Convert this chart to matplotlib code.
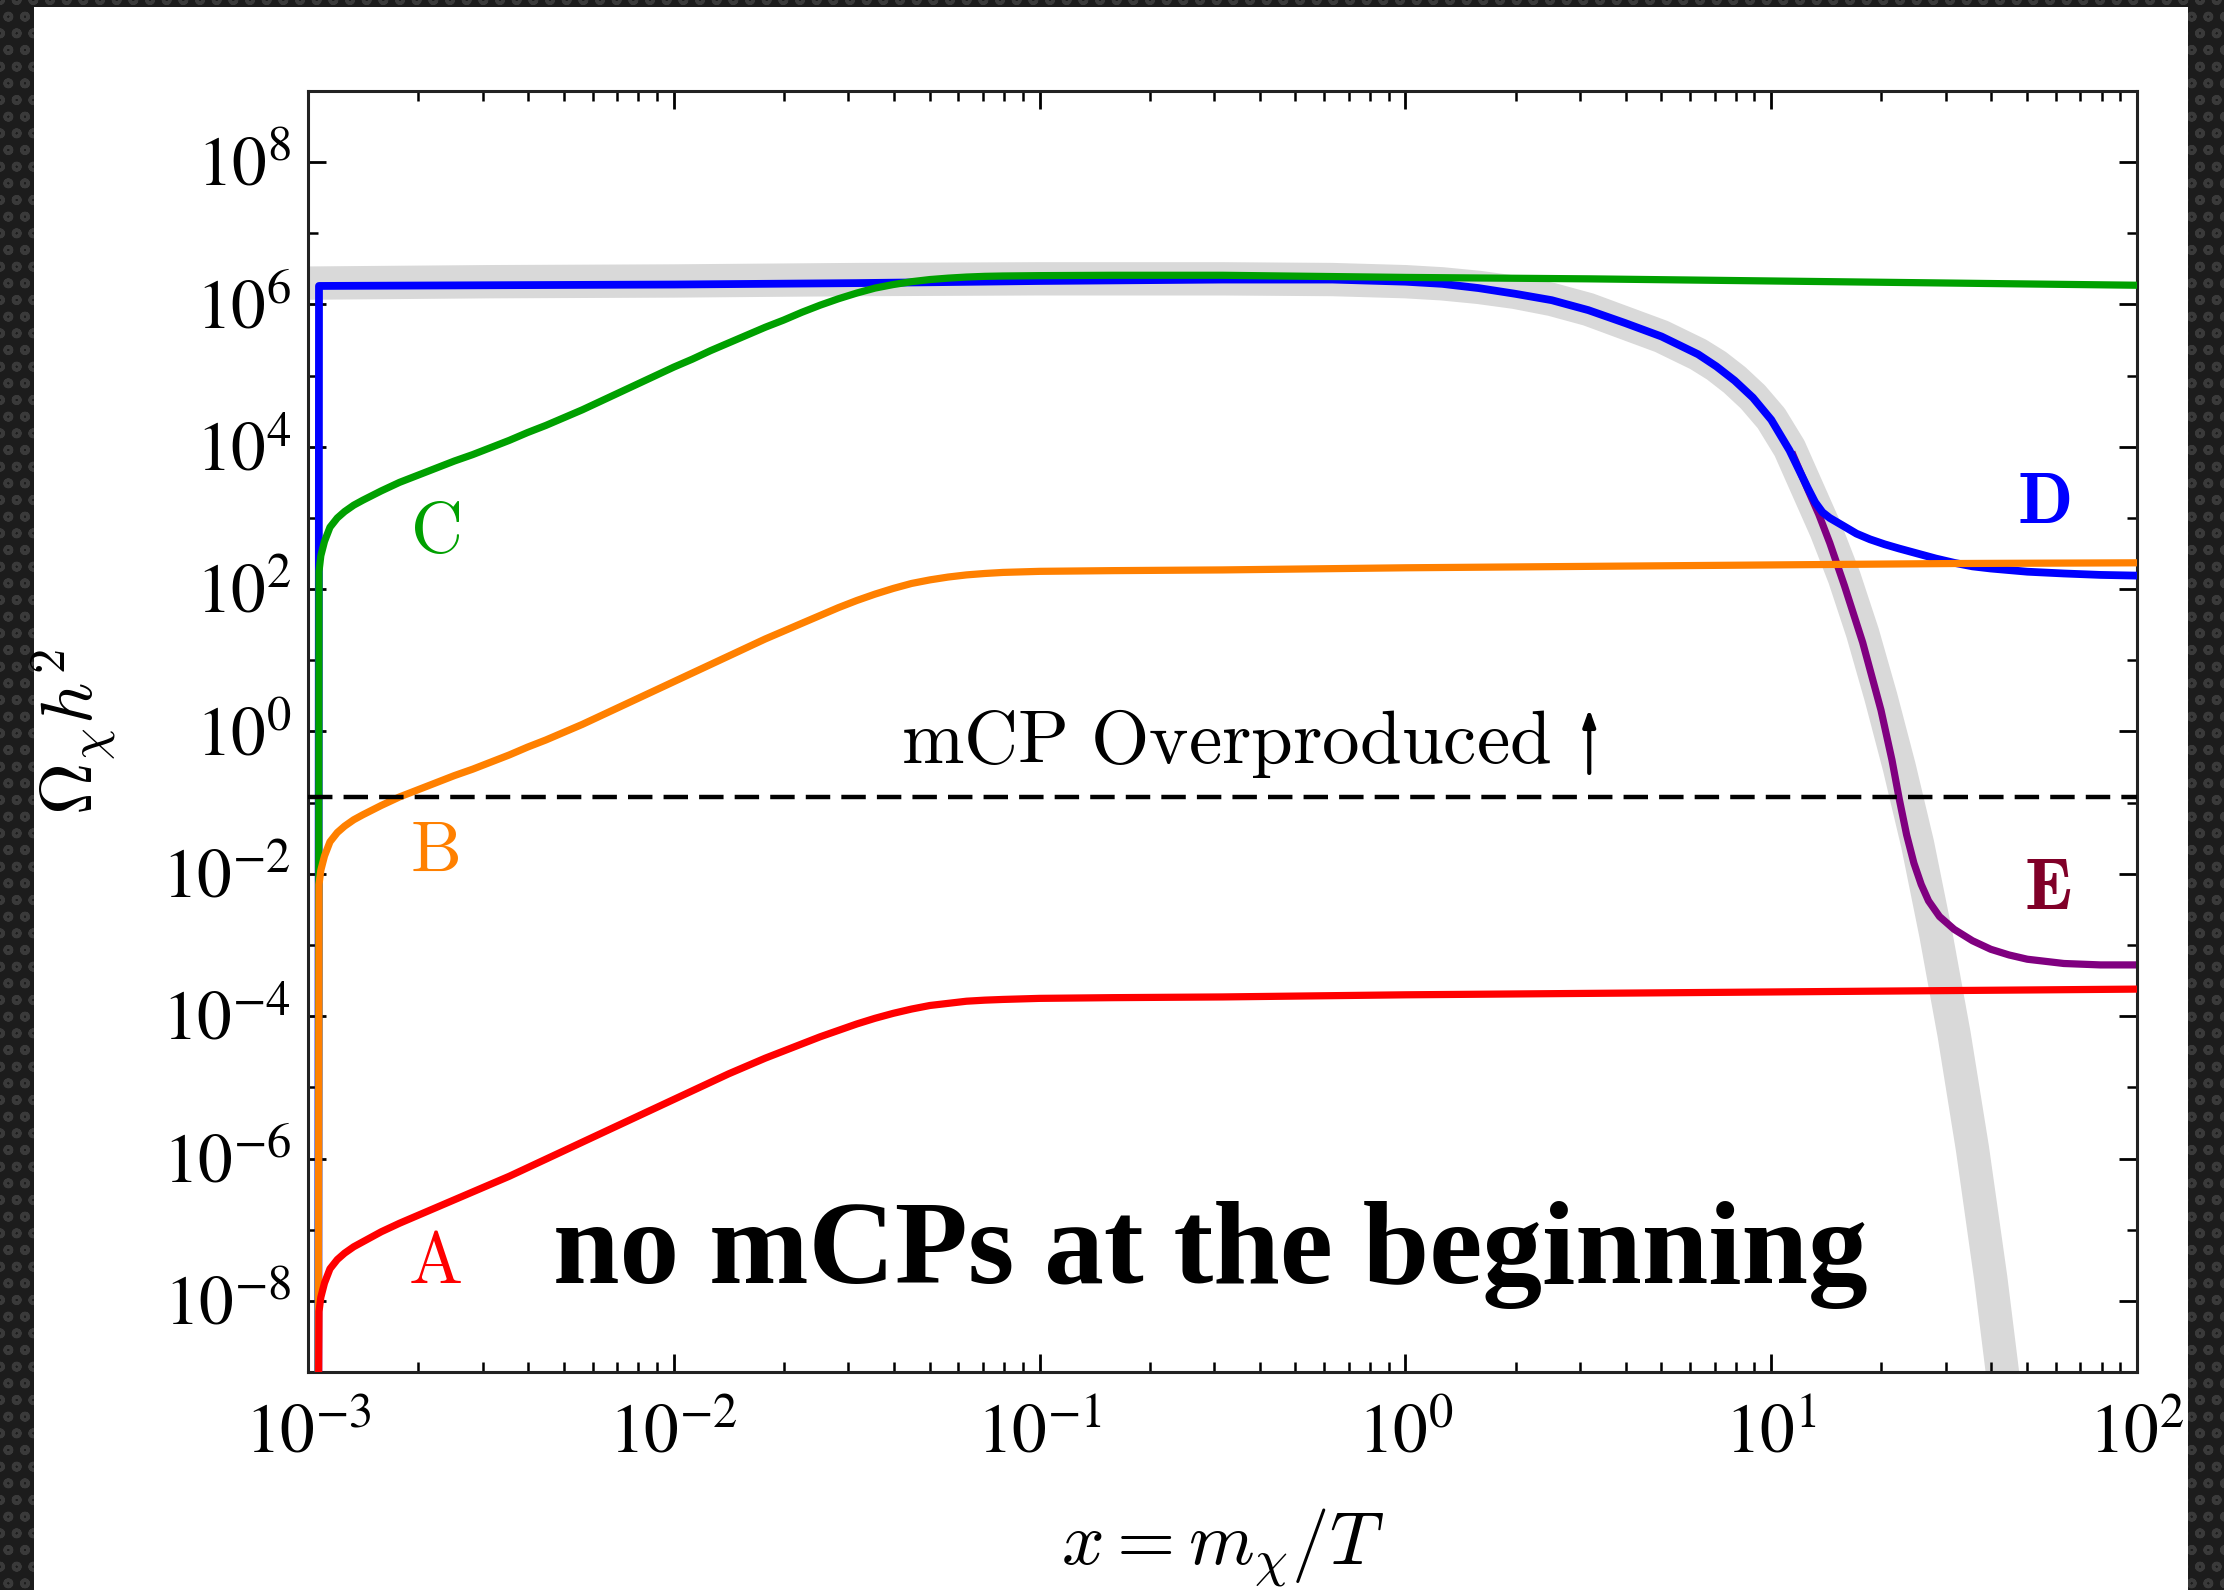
import numpy as np
import matplotlib.pyplot as plt
from matplotlib.patches import Rectangle
from matplotlib.ticker import FixedLocator, LogLocator, NullFormatter, FuncFormatter

plt.rcParams['mathtext.fontset'] = 'stix'
plt.rcParams['font.family'] = ['STIXGeneral', 'DejaVu Serif']
plt.rcParams['hatch.linewidth'] = 1.2

# values, as log10(x) and log10(Omega h^2)
eq_logx = [-3.0, -2.5, -2.0, -1.5, -1.0, -0.5, -0.2, 0.0, 0.1, 0.2, 0.3, 0.4, 0.5, 0.6,
           0.7, 0.8, 0.85, 0.9, 0.95, 1.0, 1.05, 1.1, 1.15, 1.2, 1.25, 1.3, 1.35, 1.4,
           1.45, 1.5, 1.55, 1.6, 1.65]
eq_logy = [6.30, 6.32, 6.33, 6.35, 6.36, 6.36, 6.35, 6.32, 6.29, 6.24, 6.17, 6.07, 5.93, 5.74,
           5.55, 5.30, 5.14, 4.94, 4.70, 4.40, 3.98, 3.40, 2.82, 2.16, 1.38, 0.48, -0.50, -1.58,
           -2.85, -4.26, -5.86, -7.68, -9.75]

d_logx = [-2.972, -2.970, -2.5, -2.0, -1.5, -1.0, -0.5, -0.2, 0.0, 0.1, 0.2, 0.3, 0.4, 0.5,
          0.6, 0.7, 0.8, 0.85, 0.9, 0.95, 1.0, 1.05, 1.1, 1.12, 1.14, 1.16, 1.18, 1.2, 1.233,
          1.27, 1.31, 1.35, 1.4, 1.45, 1.5, 1.55, 1.6, 1.7, 1.8, 1.9, 2.0]
d_logy = [-10.0, 6.26, 6.27, 6.28, 6.30, 6.33, 6.35, 6.35, 6.32, 6.29, 6.23, 6.15, 6.06, 5.92,
          5.74, 5.55, 5.30, 5.13, 4.93, 4.69, 4.38, 3.95, 3.42, 3.22, 3.08, 3.00, 2.94, 2.88, 2.78,
          2.70, 2.63, 2.57, 2.50, 2.43, 2.37, 2.32, 2.29, 2.245, 2.22, 2.20, 2.19]

e_logx = [1.06, 1.10, 1.13, 1.16, 1.20, 1.25, 1.30, 1.33, 1.35, 1.37, 1.39, 1.41, 1.43, 1.46,
          1.50, 1.55, 1.60, 1.65, 1.70, 1.80, 1.90, 2.00]
e_logy = [3.88, 3.40, 3.05, 2.65, 2.05, 1.25, 0.30, -0.40, -0.95, -1.45, -1.85, -2.15, -2.38, -2.60,
          -2.78, -2.94, -3.06, -3.14, -3.20, -3.26, -3.28, -3.28]

abc_logx = [-2.972, -2.970, -2.965, -2.955, -2.94, -2.92, -2.90, -2.875, -2.85, -2.80, -2.75,
            -2.70, -2.65, -2.60, -2.55, -2.50, -2.45, -2.40, -2.35, -2.30, -2.25, -2.20, -2.15,
            -2.10, -2.05, -2.00, -1.95, -1.90, -1.85, -1.80, -1.75, -1.70, -1.65, -1.60, -1.55,
            -1.50, -1.45, -1.40, -1.35, -1.30, -1.25, -1.20, -1.15, -1.10, -1.0, -0.8, -0.5,
            0.0, 0.5, 1.0, 1.5, 2.0]
c_logy = [-10.0, 2.25, 2.47, 2.67, 2.87, 3.00, 3.09, 3.18, 3.25, 3.38, 3.50,
          3.60, 3.70, 3.80, 3.89, 3.99, 4.09, 4.20, 4.30, 4.41, 4.52, 4.64, 4.76,
          4.88, 5.00, 5.12, 5.23, 5.35, 5.46, 5.57, 5.68, 5.78, 5.89, 5.99, 6.08,
          6.16, 6.23, 6.28, 6.32, 6.35, 6.37, 6.385, 6.395, 6.40, 6.405, 6.41, 6.41,
          6.38, 6.36, 6.33, 6.30, 6.27]
b_logy = [-10.0, -2.15, -1.95, -1.75, -1.55, -1.42, -1.33, -1.24, -1.17, -1.04, -0.92,
          -0.82, -0.72, -0.62, -0.53, -0.43, -0.33, -0.22, -0.12, -0.01, 0.10, 0.22, 0.34,
          0.46, 0.58, 0.70, 0.82, 0.94, 1.06, 1.18, 1.30, 1.41, 1.52, 1.63, 1.74,
          1.84, 1.93, 2.01, 2.08, 2.13, 2.17, 2.20, 2.22, 2.235, 2.25, 2.26, 2.27,
          2.30, 2.32, 2.34, 2.36, 2.37]
a_logy = [-10.0, -8.15, -7.95, -7.75, -7.55, -7.42, -7.33, -7.24, -7.17, -7.03, -6.91,
          -6.80, -6.69, -6.58, -6.47, -6.36, -6.25, -6.13, -6.01, -5.89, -5.77, -5.65, -5.53,
          -5.41, -5.29, -5.17, -5.05, -4.93, -4.81, -4.70, -4.59, -4.49, -4.39, -4.29, -4.20,
          -4.11, -4.03, -3.96, -3.90, -3.85, -3.82, -3.79, -3.775, -3.765, -3.75, -3.74, -3.73,
          -3.70, -3.68, -3.66, -3.64, -3.62]

omega_obs = 0.12

fig = plt.figure(figsize=(11.12, 7.95), dpi=200)
fig.patch.set_facecolor('#1c1c1c')
fig.patches.append(Rectangle((0, 0), 1, 1, transform=fig.transFigure, facecolor='#1c1c1c',
                             edgecolor='#3a3a3a', hatch='oo', lw=0, zorder=-10))
fig.patches.append(Rectangle((0.0153, 0), 0.9685, 0.9955, transform=fig.transFigure,
                             facecolor='white', edgecolor='none', zorder=-5))

ax = fig.add_axes([0.1385, 0.1371, 0.8224, 0.8057])
ax.set_facecolor('white')

def p(lx, ly):
    return 10.0 ** np.array(lx), 10.0 ** np.array(ly)

ax.plot(*p(eq_logx, eq_logy), color='#d9d9d9', lw=12, solid_capstyle='butt', zorder=1)
ax.plot(*p(e_logx, e_logy), color='#800080', lw=2.6, zorder=2)
ax.plot(*p(d_logx, d_logy), color='#0000ff', lw=2.8, zorder=3)
ax.plot(*p(abc_logx, c_logy), color='#00a000', lw=2.6, zorder=4)
ax.plot(*p(abc_logx, b_logy), color='#ff8000', lw=2.6, zorder=5)
ax.plot(*p(abc_logx, a_logy), color='#ff0000', lw=2.6, zorder=6)
ax.axhline(omega_obs, color='black', lw=1.6, dashes=(5.5, 2.5), zorder=7)

ax.set_xscale('log')
ax.set_yscale('log')
ax.set_xlim(1e-3, 1e2)
ax.set_ylim(1e-9, 1e9)

ax.xaxis.set_major_locator(FixedLocator(10.0 ** np.arange(-3, 3)))
ax.xaxis.set_minor_locator(LogLocator(base=10, subs=np.arange(2, 10)))
ax.xaxis.set_minor_formatter(NullFormatter())
ax.yaxis.set_major_locator(FixedLocator(10.0 ** np.arange(-8, 9, 2)))
ax.yaxis.set_minor_locator(FixedLocator(10.0 ** np.arange(-9, 10, 2)))
ax.yaxis.set_minor_formatter(NullFormatter())
fmt = FuncFormatter(lambda v, pos: r'$10^{%d}$' % round(np.log10(v)))
ax.xaxis.set_major_formatter(fmt)
ax.yaxis.set_major_formatter(fmt)

ax.tick_params(which='both', direction='in', top=True, right=True, colors='black')
ax.tick_params(which='major', length=6.5, width=1.0, labelsize=25)
ax.tick_params(axis='x', which='major', pad=12)
ax.tick_params(axis='y', which='major', pad=6)
ax.tick_params(which='minor', length=3.5, width=0.9)
for s in ax.spines.values():
    s.set_linewidth(1.1)
    s.set_color('#222222')

ax.set_xlabel(r'$x = m_\chi/T$', fontsize=27, math_fontfamily='cm')
ax.xaxis.set_label_coords(0.5, -0.105)
ax.set_ylabel(r'$\Omega_\chi h^2$', fontsize=26, math_fontfamily='cm')
ax.yaxis.set_label_coords(-0.104, 0.5)

tr = ax.transAxes
ax.text(0.0694, 0.653, r'$\mathrm{C}$', color='#00a000', fontsize=26, math_fontfamily='cm',
        ha='center', va='center', transform=tr)
ax.text(0.0694, 0.4036, r'$\mathrm{B}$', color='#ff8000', fontsize=26, math_fontfamily='cm',
        ha='center', va='center', transform=tr)
ax.text(0.0694, 0.0827, r'$\mathrm{A}$', color='#ff0000', fontsize=26, math_fontfamily='cm',
        ha='center', va='center', transform=tr)
ax.text(0.949, 0.676, r'$\mathbf{D}$', color='#0000ff', fontsize=26, math_fontfamily='cm',
        ha='center', va='center', transform=tr)
ax.text(0.951, 0.374, r'$\mathbf{E}$', color='#800028', fontsize=26, math_fontfamily='cm',
        ha='center', va='center', transform=tr)

ax.text(0.502, 0.4754, r'$\mathrm{mCP\ Overproduced}$', fontsize=27, math_fontfamily='cm',
        ha='center', va='baseline', transform=tr, zorder=8)
ax.annotate('', xy=(0.7005, 0.5176), xytext=(0.7005, 0.4676), xycoords=tr, textcoords=tr,
            arrowprops=dict(arrowstyle='-|>,head_length=0.5,head_width=0.18', color='black',
                            lw=1.5, shrinkA=0, shrinkB=0))

ax.text(0.134, 0.0695, 'no mCPs at the beginning', fontsize=43, fontweight='bold',
        family='Liberation Serif', ha='left', va='baseline', transform=tr, zorder=8)

fig.savefig('out.png', dpi=200, facecolor=fig.get_facecolor())
